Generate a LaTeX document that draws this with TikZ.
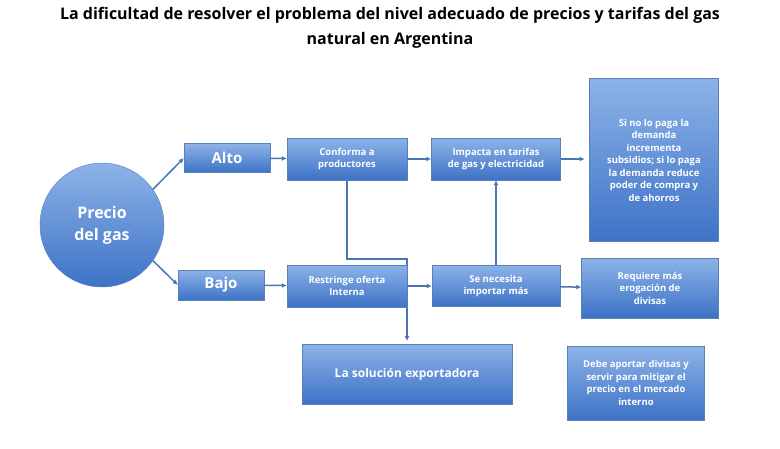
\documentclass[tikz,border=0pt]{standalone}
\usepackage{fontspec}
\setmainfont{Open Sans}
\usetikzlibrary{arrows.meta}
\definecolor{boxtop}{HTML}{8DB3E8}
\definecolor{boxbot}{HTML}{3D72C6}
\definecolor{boxline}{HTML}{5A80B8}
\definecolor{linkcol}{HTML}{4A76B5}
\tikzset{
  blk/.style={draw=boxline, top color=boxtop, bottom color=boxbot, text=white, font=\bfseries\fontsize{9.5}{12.5}\selectfont, align=center, inner sep=2pt},
  link/.style={draw=linkcol, line width=1.5pt, -{Latex[length=5pt,width=5pt]}}
}
\begin{document}
\begin{tikzpicture}[x=1pt,y=-1pt]
  \useasboundingbox (0,0) rectangle (780,448);
  \node[font=\bfseries\fontsize{16}{25}\selectfont, align=center] (title) at (390,28)
    {La dificultad de resolver el problema del nivel adecuado de precios y tarifas del gas\\natural en Argentina};
  % connector drawn below the boxes
  \coordinate (bendA) at (347,259);
  \coordinate (bendB) at (407,259);
  \coordinate (solTop) at (407,341);
  \draw[link] (347,180) -- (bendA) -- (bendB) -- (solTop);
  \node[blk, circle, minimum size=124pt, font=\bfseries\fontsize{16}{22}\selectfont] (precio) at (102,225) {Precio\\del gas};
  \node[blk, minimum width=86pt, minimum height=29pt, font=\bfseries\fontsize{15}{17}\selectfont] (alto) at (227,158) {Alto};
  \node[blk, minimum width=86pt, minimum height=30pt, font=\bfseries\fontsize{15}{17}\selectfont] (bajo) at (221,285) {Bajo};
  \node[blk, minimum width=120pt, minimum height=42pt] (conforma) at (347,159) {Conforma a\\productores};
  \node[blk, minimum width=129pt, minimum height=42pt] (impacta) at (496,159) {Impacta en tarifas\\de gas y electricidad};
  \node[blk, minimum width=120pt, minimum height=42pt] (restringe) at (347,286) {Restringe oferta\\Interna};
  \node[blk, minimum width=128pt, minimum height=41pt] (importar) at (496,286) {Se necesita\\importar más};
  \node[blk, minimum width=129pt, minimum height=163pt] (subsidio) at (654,160) {Si no lo paga la\\demanda\\incrementa\\subsidios; si lo paga\\la demanda reduce\\poder de compra y\\de ahorros};
  \node[blk, minimum width=137pt, minimum height=60pt] (divisas) at (650,288) {Requiere más\\erogación de\\divisas};
  \node[blk, minimum width=210pt, minimum height=60pt, font=\bfseries\fontsize{12}{14}\selectfont] (solucion) at (407,374) {La solución exportadora};
  \node[blk, minimum width=137pt, minimum height=74pt] (aporte) at (636,383) {Debe aportar divisas y\\servir para mitigar el\\precio en el mercado\\interno};
  \draw[link] (precio.35) -- (alto.west);
  \draw[link] (precio.-35) -- (bajo.west);
  \draw[link] (alto) -- (conforma);
  \draw[link] (bajo) -- (restringe);
  \draw[link] (conforma) -- (impacta);
  \draw[link] (impacta.east) -- ++(24,0);
  \draw[link] (restringe) -- (importar);
  \draw[link] (importar) -- (impacta);
  \draw[link] (importar) -- (divisas);
\end{tikzpicture}
\end{document}
